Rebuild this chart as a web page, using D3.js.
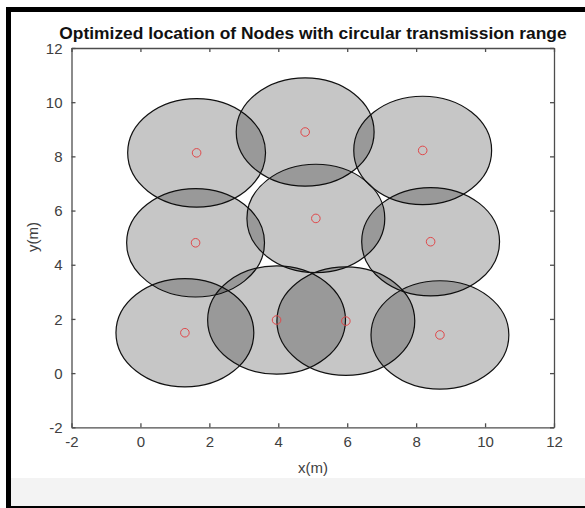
<!DOCTYPE html>
<html><head><meta charset="utf-8">
<script src="https://cdn.jsdelivr.net/npm/d3@7"></script>
<style>html,body{margin:0;padding:0;background:#fff;overflow:hidden}</style>
</head><body>
<script>
const nodeX = [1.63, 4.78, 8.19, 1.60, 5.09, 8.42, 1.29, 3.95, 5.96, 8.69];
const nodeY = [8.13, 8.90, 8.22, 4.81, 5.71, 4.85, 1.49, 1.96, 1.92, 1.41];
const range = 2;
const xTicks = [-2, 0, 2, 4, 6, 8, 10, 12];
const yTicks = [-2, 0, 2, 4, 6, 8, 10, 12];
const title = "Optimized location of Nodes with circular transmission range";

const W = 585, H = 508;
const svg = d3.select("body").append("svg").attr("width", W).attr("height", H);

// frame
svg.append("rect").attr("x", 0).attr("y", 0).attr("width", W).attr("height", H).attr("fill", "#fff");
svg.append("rect").attr("x", 11).attr("y", 478).attr("width", W - 11).attr("height", 28).attr("fill", "#f3f3f3");
svg.append("rect").attr("x", 6).attr("y", 7).attr("width", W - 6).attr("height", 5).attr("fill", "#000");
svg.append("rect").attr("x", 6).attr("y", 7).attr("width", 5).attr("height", H - 7).attr("fill", "#000");
svg.append("rect").attr("x", 6).attr("y", 506).attr("width", W - 6).attr("height", 2).attr("fill", "#000");

const x = d3.scaleLinear().domain([-2, 12]).range([71.5, 554]);
const y = d3.scaleLinear().domain([-2, 12]).range([427.3, 48]);

const g = svg.append("g");
const data = nodeX.map((v, i) => ({x: v, y: nodeY[i]}));
const rx = x(range) - x(0), ry = y(0) - y(range);

g.selectAll("ellipse.cov").data(data).enter().append("ellipse")
  .attr("class", "cov")
  .attr("cx", d => x(d.x)).attr("cy", d => y(d.y))
  .attr("rx", rx).attr("ry", ry)
  .attr("fill", "#000").attr("fill-opacity", 0.225)
  .attr("stroke", "#111").attr("stroke-width", 1.2);

g.selectAll("circle.node").data(data).enter().append("circle")
  .attr("class", "node")
  .attr("cx", d => x(d.x)).attr("cy", d => y(d.y)).attr("r", 4.3)
  .attr("fill", "none").attr("stroke", "#e0484a").attr("stroke-width", 1);

// axes box
const axCol = "#4d4d4d";
const fontFam = "'Liberation Sans', Arial, sans-serif";
const fmt = d => String(d);
const axB = svg.append("g").attr("transform", `translate(0,${y(-2)})`)
  .call(d3.axisBottom(x).tickValues(xTicks).tickFormat(fmt).tickSizeInner(-4).tickSizeOuter(0).tickPadding(9));
const axT = svg.append("g").attr("transform", `translate(0,${y(12)})`)
  .call(d3.axisTop(x).tickValues(xTicks).tickSizeInner(-4).tickSizeOuter(0).tickFormat(""));
const axL = svg.append("g").attr("transform", `translate(${x(-2)},0)`)
  .call(d3.axisLeft(y).tickValues(yTicks).tickFormat(fmt).tickSizeInner(-4).tickSizeOuter(0).tickPadding(9));
const axR = svg.append("g").attr("transform", `translate(${x(12)},0)`)
  .call(d3.axisRight(y).tickValues(yTicks).tickSizeInner(-4).tickSizeOuter(0).tickFormat(""));
[axB, axT, axL, axR].forEach(a => {
  a.selectAll("path").attr("stroke", axCol).attr("stroke-width", 1.3);
  a.selectAll("line").attr("stroke", axCol).attr("stroke-width", 1.3);
  a.selectAll("text").attr("fill", "#404040").attr("font-size", 15).attr("font-family", fontFam);
});
axL.selectAll("text").attr("dy", "0.35em");

svg.append("text").attr("x", 313).attr("y", 39).attr("text-anchor", "middle")
  .attr("font-family", fontFam).attr("font-weight", "bold").attr("font-size", 17.4)
  .attr("fill", "#111").text(title);
svg.append("text").attr("x", 313).attr("y", 473).attr("text-anchor", "middle")
  .attr("font-family", fontFam).attr("font-size", 15).attr("fill", "#404040").text("x(m)");
svg.append("text").attr("transform", "translate(38,237) rotate(-90)").attr("text-anchor", "middle")
  .attr("font-family", fontFam).attr("font-size", 15).attr("fill", "#404040").text("y(m)");
</script>
</body></html>
